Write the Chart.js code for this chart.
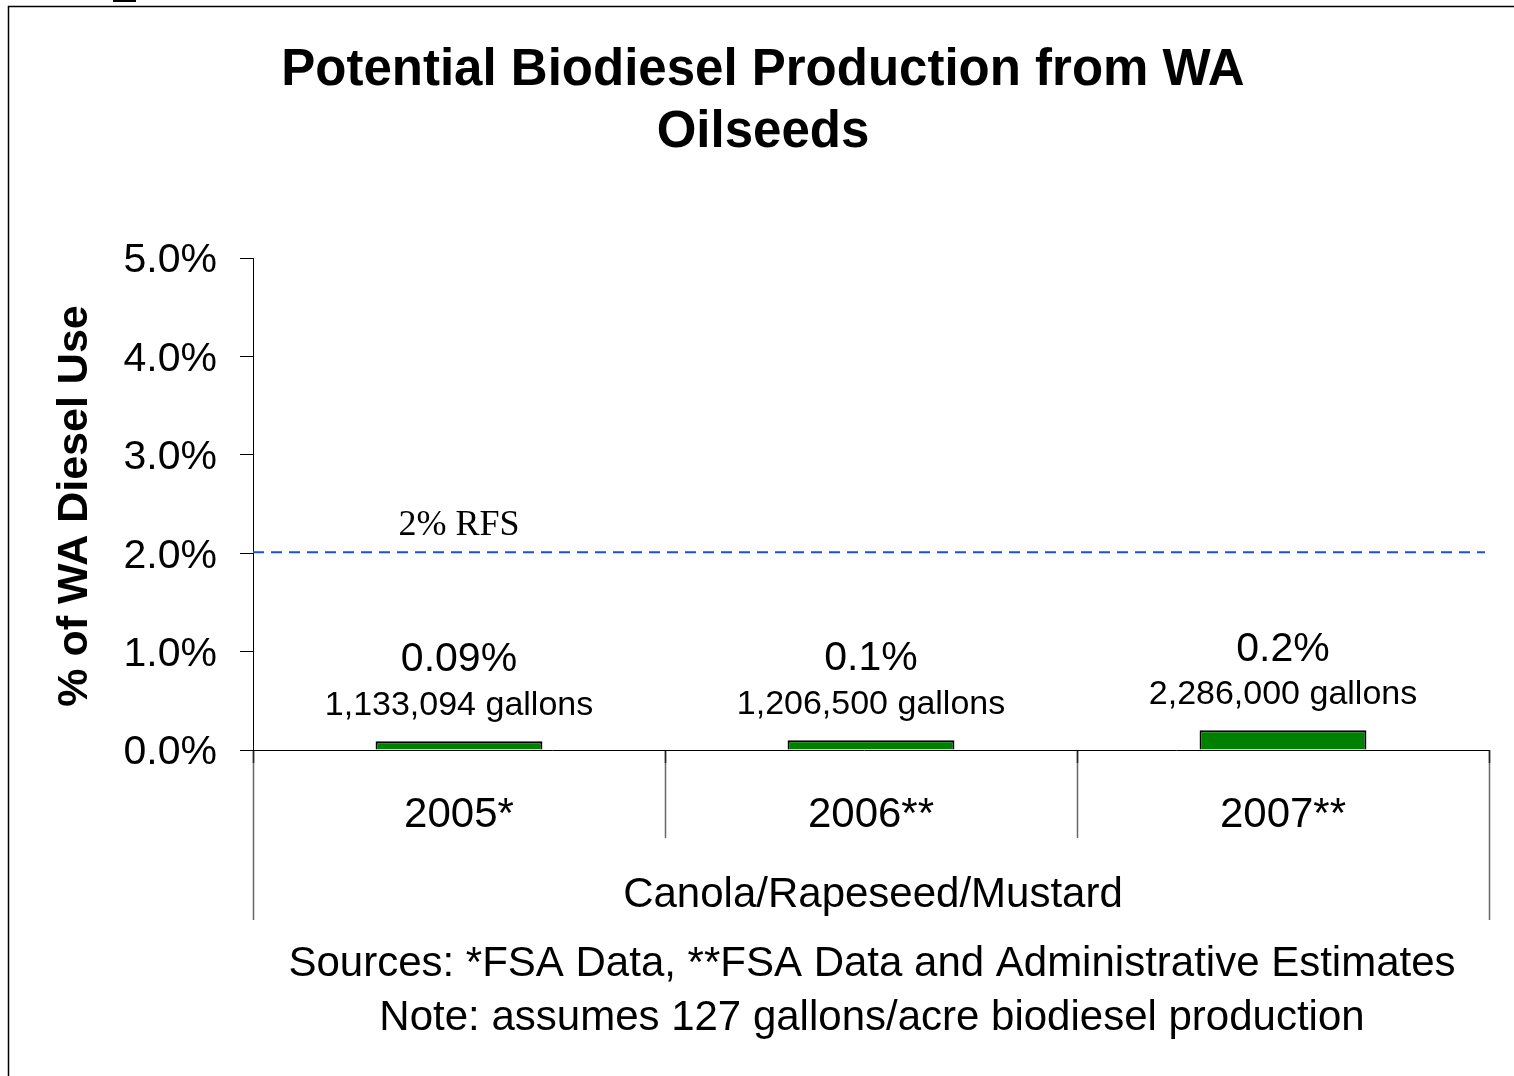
<!DOCTYPE html>
<html><head><meta charset="utf-8">
<style>html,body{margin:0;padding:0;background:#fff;}#wrap{position:relative;width:1514px;height:1076px;}</style>
<script src="https://cdn.jsdelivr.net/npm/chart.js@4.4.1/dist/chart.umd.min.js"></script>
</head><body><div id="wrap"><canvas id="c" width="1514" height="1076"></canvas></div>
<script>
const titleLines = ['Potential Biodiesel Production from WA', 'Oilseeds'];
const categories = ['2005*', '2006**', '2007**'];
const groupLabel = 'Canola/Rapeseed/Mustard';
const values = [0.09, 0.1, 0.2];
const pctLabels = ['0.09%', '0.1%', '0.2%'];
const gallonLabels = ['1,133,094 gallons', '1,206,500 gallons', '2,286,000 gallons'];
const rfsValue = 2.0;
const rfsLabel = '2% RFS';
const yTicks = [0, 1, 2, 3, 4, 5];
const yTitle = '% of WA Diesel Use';
const footLines = ['Sources: *FSA Data, **FSA Data and Administrative Estimates', 'Note: assumes 127 gallons/acre biodiesel production'];

const SANS = '"Liberation Sans", Arial, sans-serif';
const SERIF = '"Liberation Serif", "Times New Roman", serif';

const decor = {
  id: 'decor',
  beforeDraw(chart) {
    const ctx = chart.ctx;
    ctx.save();
    ctx.fillStyle = '#fff';
    ctx.fillRect(0, 0, chart.width, chart.height);
    ctx.strokeStyle = '#000';
    ctx.lineWidth = 1.5;
    ctx.beginPath();
    ctx.moveTo(8.5, chart.height); ctx.lineTo(8.5, 6.5); ctx.lineTo(chart.width, 6.5);
    ctx.stroke();
    ctx.fillStyle = '#000';
    ctx.fillRect(113, 0, 23, 2);
    ctx.restore();
  },
  afterDatasetsDraw(chart) {
    const ctx = chart.ctx;
    const x = chart.scales.x, y = chart.scales.y;
    const area = chart.chartArea;
    const dy = 3;
    ctx.save();
    // RFS line
    const ry = y.getPixelForValue(rfsValue) - 1;
    ctx.strokeStyle = '#1f4fd6';
    ctx.lineWidth = 2;
    ctx.setLineDash([11, 7]);
    ctx.beginPath(); ctx.moveTo(area.left, ry); ctx.lineTo(area.right - 4, ry); ctx.stroke();
    ctx.setLineDash([]);
    ctx.fillStyle = '#000';
    ctx.font = '36px ' + SERIF;
    ctx.textAlign = 'center'; ctx.textBaseline = 'middle';
    ctx.fillText(rfsLabel, x.getPixelForValue(0), ry - 30 + dy);
    // x axis and category boxes
    const n = categories.length;
    const step = (area.right - area.left) / n;
    ctx.lineWidth = 1.5;
    for (let i = 0; i <= n; i++) {
      const xx = Math.round(area.left + i * step) + 0.5;
      const bottom = (i === 0 || i === n) ? area.bottom + 170 : area.bottom + 88;
      ctx.strokeStyle = '#666';
      ctx.beginPath(); ctx.moveTo(xx, area.bottom); ctx.lineTo(xx, bottom); ctx.stroke();
      ctx.strokeStyle = '#222';
      ctx.beginPath(); ctx.moveTo(xx, area.bottom); ctx.lineTo(xx, area.bottom + 13); ctx.stroke();
    }
    ctx.strokeStyle = '#000';
    ctx.lineWidth = 1;
    ctx.beginPath();
    ctx.moveTo(area.left - 13, Math.round(area.bottom) + 0.5);
    ctx.lineTo(area.right, Math.round(area.bottom) + 0.5);
    ctx.stroke();
    ctx.fillStyle = '#000';
    ctx.font = '42px ' + SANS;
    categories.forEach((c, i) => ctx.fillText(c, x.getPixelForValue(i), area.bottom + 62 + dy));
    ctx.font = '42px ' + SANS;
    ctx.fillText(groupLabel, (area.left + area.right) / 2 + 2, area.bottom + 142 + dy);
    footLines.forEach((t, i) => ctx.fillText(t, (area.left + area.right) / 2 + 1, area.bottom + 211 + dy + i * 54));
    // data labels
    values.forEach((v, i) => {
      const px = x.getPixelForValue(i);
      const top = y.getPixelForValue(v);
      ctx.font = '41px ' + SANS;
      ctx.fillText(pctLabels[i], px, top - 84 + dy);
      ctx.font = '34px ' + SANS;
      ctx.fillText(gallonLabels[i], px, top - 39 + dy);
    });
    // titles
    ctx.font = 'bold 51px ' + SANS;
    titleLines.forEach((t, i) => ctx.fillText(t, 763, 68 + dy + i * 62));
    ctx.save();
    ctx.translate(75, 506);
    ctx.rotate(-Math.PI / 2);
    ctx.font = 'bold 43px ' + SANS;
    ctx.fillText(yTitle, 0, 0);
    ctx.restore();
    ctx.restore();
  }
};

new Chart(document.getElementById('c'), {
  type: 'bar',
  data: {
    labels: categories,
    datasets: [{
      data: values,
      backgroundColor: '#008000',
      borderColor: '#000',
      borderWidth: 2,
      borderSkipped: 'bottom',
      barPercentage: 0.405,
      categoryPercentage: 1
    }]
  },
  options: {
    responsive: false,
    animation: false,
    devicePixelRatio: 1,
    layout: { padding: { top: 258, right: 25, bottom: 326, left: 0 } },
    plugins: { legend: { display: false }, tooltip: { enabled: false }, title: { display: false } },
    scales: {
      x: { display: false },
      y: {
        min: 0, max: 5,
        afterFit(s) { s.width = 253; },
        afterBuildTicks(s) { s.ticks = yTicks.map(v => ({ value: v })); },
        border: { display: true, color: '#000', width: 1 },
        grid: { drawOnChartArea: false, drawTicks: true, tickLength: 13, color: '#000' },
        ticks: {
          color: '#000', padding: 23, labelOffset: 3,
          font: { family: SANS, size: 41 },
          callback: v => v.toFixed(1) + '%'
        }
      }
    }
  },
  plugins: [decor]
});
</script></body></html>
